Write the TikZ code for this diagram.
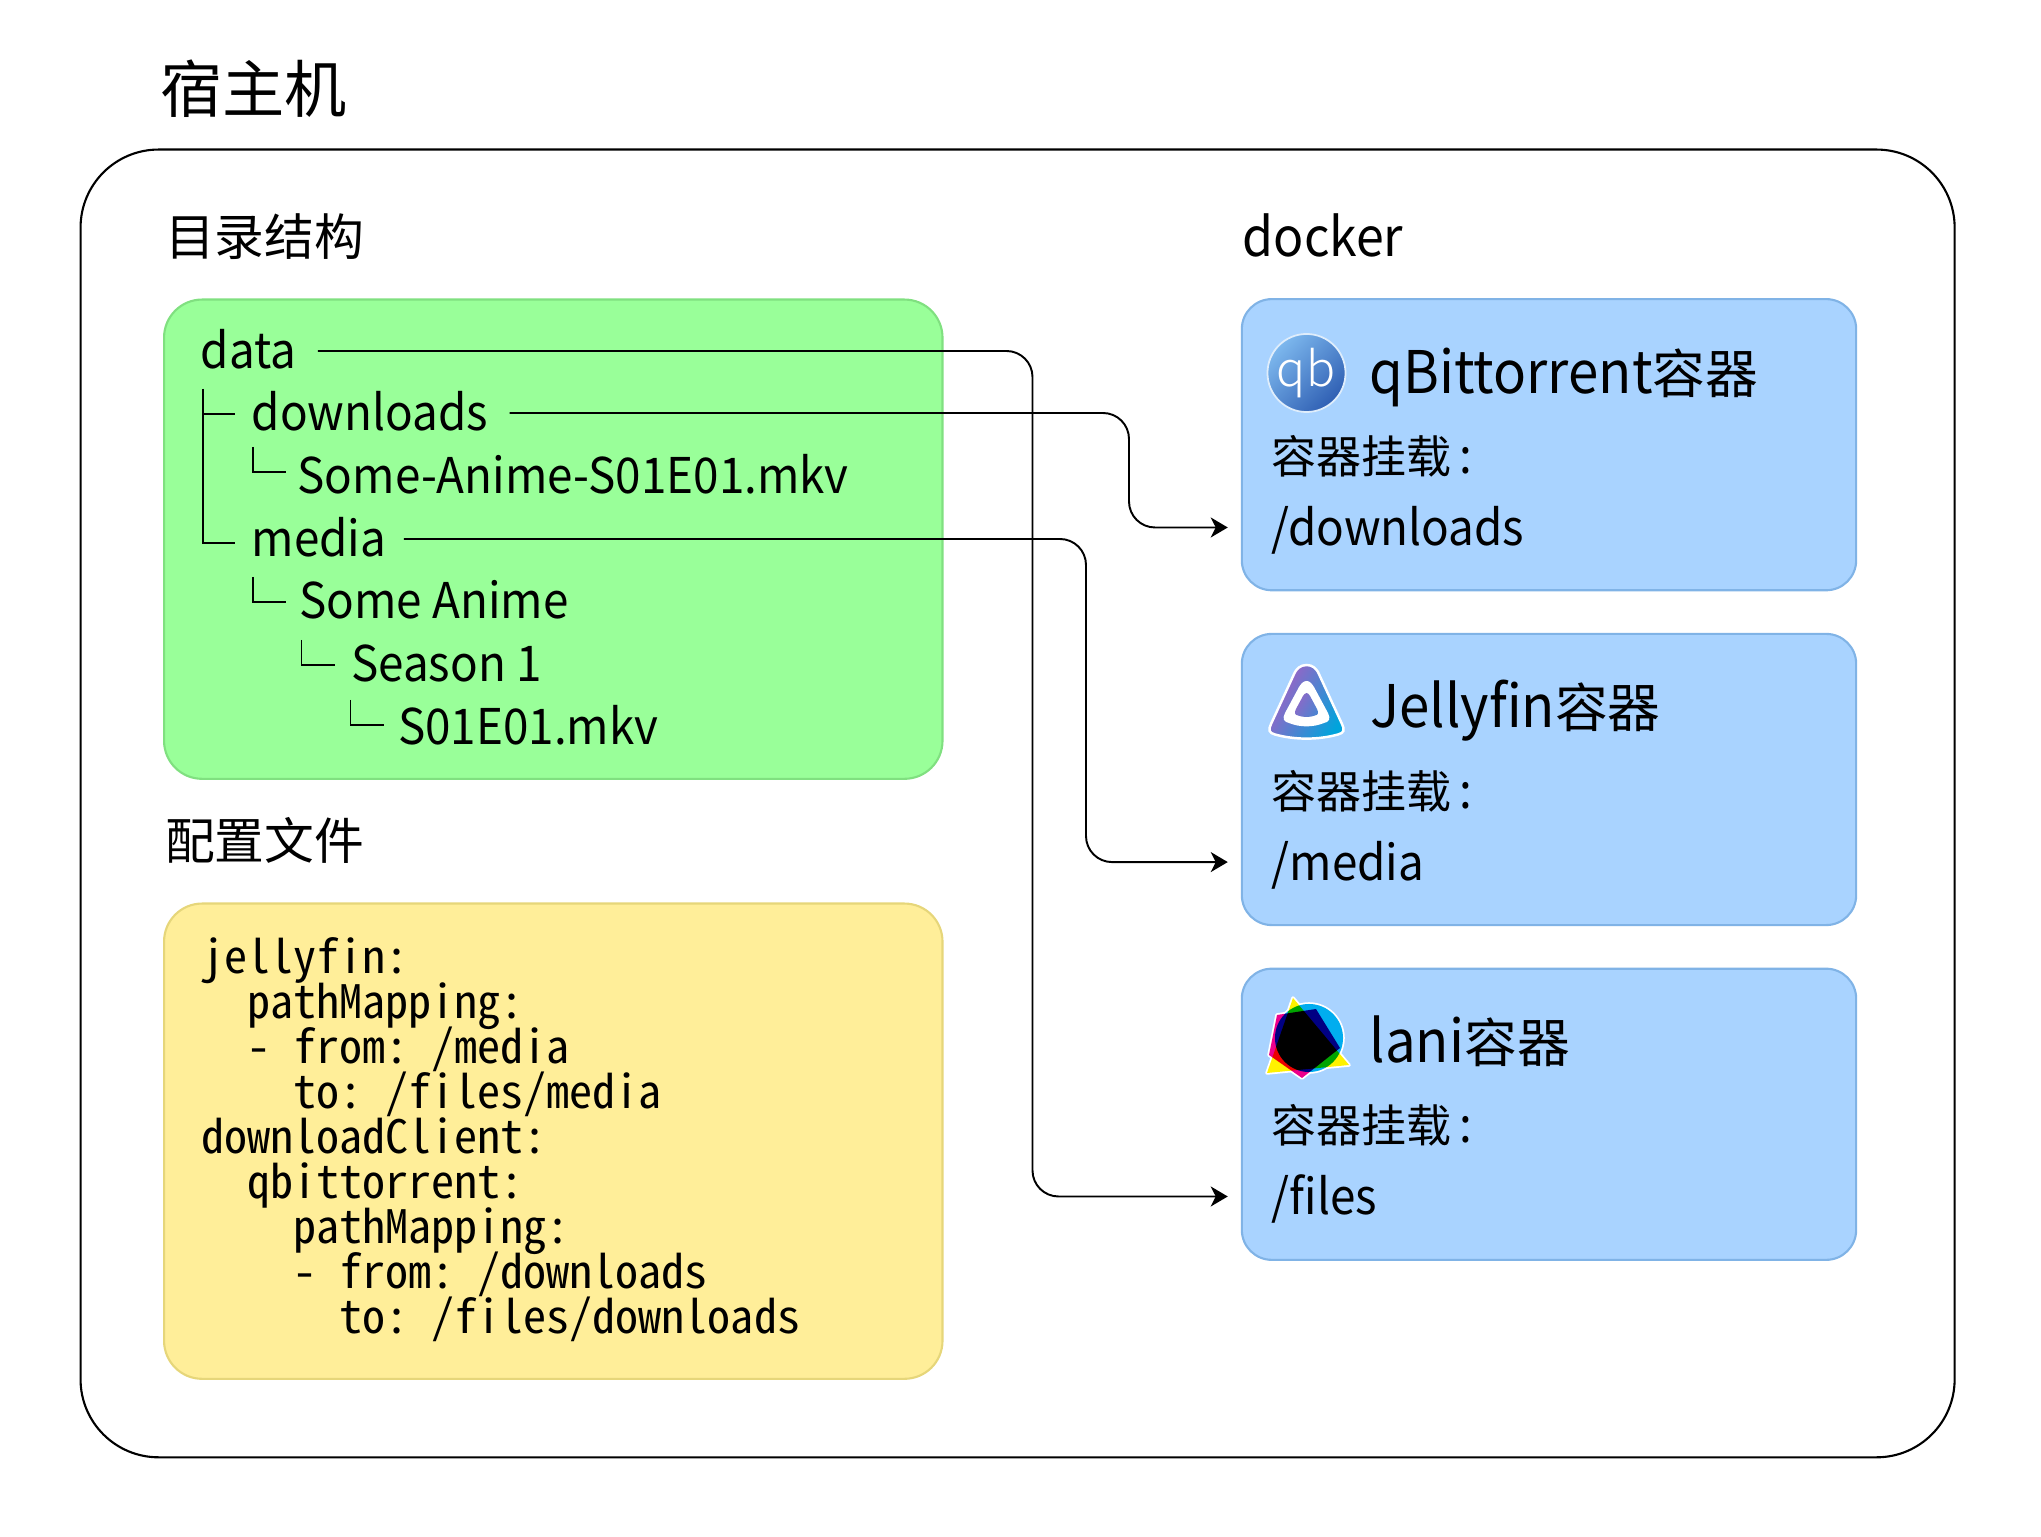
\documentclass[tikz,border=0pt]{standalone}
\usepackage{fontspec}
\usetikzlibrary{shapes, arrows.meta, positioning, calc}
\setmainfont{Noto Sans CJK SC}
\newfontfamily\yamlfont{Noto Sans Mono CJK SC}
\newfontfamily\latinfont[FakeStretch=0.93]{Noto Sans CJK SC}
\newfontfamily\qbfont{Noto Sans CJK SC Light}
\definecolor{greenfill}{HTML}{99FF99}
\definecolor{greenedge}{HTML}{80E080}
\definecolor{yellowfill}{HTML}{FFEE99}
\definecolor{yellowedge}{HTML}{E6D67A}
\definecolor{bluefill}{HTML}{A9D3FF}
\definecolor{blueedge}{HTML}{80B3E6}
\definecolor{jfpurple}{HTML}{AA5CC3}
\definecolor{jfmid}{HTML}{8F62C6}
\definecolor{jfcyan}{HTML}{00A4DC}
\definecolor{qblight}{HTML}{7DB8EE}
\definecolor{qbdark}{HTML}{2F5FB3}
\newcommand{\yamlsetup}{\yamlfont\frenchspacing\lineskiplimit=-20pt\relax\fontsize{13.1}{12.8}\selectfont}
\tikzstyle{hostbox} = [rectangle, rounded corners=0.78cm, minimum width=18.73cm, minimum height=13.07cm, draw=black, line width=0.6pt, anchor=north west, inner sep=0pt]
\tikzstyle{treebox} = [rectangle, rounded corners=0.38cm, minimum width=7.78cm, minimum height=4.79cm, draw=greenedge, fill=greenfill, line width=0.6pt, anchor=north west, inner sep=0pt]
\tikzstyle{yamlbox} = [rectangle, rounded corners=0.38cm, minimum width=7.78cm, minimum height=4.75cm, draw=yellowedge, fill=yellowfill, line width=0.6pt, anchor=north west, inner sep=0pt]
\tikzstyle{dockerbox} = [rectangle, rounded corners=0.3cm, minimum width=6.14cm, minimum height=2.91cm, draw=blueedge, fill=bluefill, line width=0.6pt, inner sep=0pt]
\tikzstyle{bigtitle} = [anchor=base west, inner sep=0pt, font=\fontsize{17.7}{20}\selectfont]
\tikzstyle{grouptitle} = [anchor=base west, inner sep=0pt, font=\fontsize{14.15}{16}\selectfont]
\tikzstyle{treetext} = [anchor=base west, inner sep=0pt, text height=0.45cm, text depth=0.1cm, font=\latinfont\fontsize{14}{16}\selectfont]
\tikzstyle{dockertitle} = [anchor=base west, inner sep=0pt, font=\fontsize{15}{16}\selectfont]
\tikzstyle{mountlabel} = [anchor=base west, inner sep=0pt, font=\fontsize{12.8}{16}\selectfont]
\tikzstyle{mountpath} = [anchor=base west, inner sep=0pt, text height=0.46cm, text depth=0.09cm, font=\latinfont\fontsize{14}{16}\selectfont]
\tikzstyle{yamltext} = [anchor=north west, inner sep=0pt, align=left, font=\yamlsetup]
\tikzstyle{treeline} = [draw=black, line width=0.55pt]
\tikzstyle{mountlink} = [draw=black, line width=0.55pt, rounded corners=0.26cm, shorten <=0.21cm, shorten >=0.13cm, -{Stealth[length=0.17cm,width=0.2cm,inset=0.05cm]}]
\tikzstyle{jfshade} = [left color=jfpurple, middle color=jfmid, right color=jfcyan, shading angle=60]
\newcommand{\ind}[1]{\hspace*{#1em}}
\newcommand{\appname}[1]{{\latinfont\fontsize{16.7}{18}\selectfont #1}}
\newcommand{\mountcolon}{\,{\latinfont\fontsize{14}{16}\selectfont :}}
\begin{document}
\begin{tikzpicture}[x=0.01cm, y=-0.01cm, node distance=3.346cm]
\useasboundingbox (0,0) rectangle (2041,1537);
\node (hosttitle) [bigtitle] at (159.5,112.5) {宿主机};
\node (hostbox) [hostbox] at (79.5,148.5) {};
\node (dirtitle) [grouptitle] at (164.5,255.5) {目录结构};
\node (dockertitle) [grouptitle, font=\latinfont\fontsize{15.3}{16}\selectfont] at (1242,256.5) {docker};
\node (cfgtitle) [grouptitle] at (164.5,860) {配置文件};
\node (treebox) [treebox] at (163,298.5) {};
\node (yamlbox) [yamlbox] at (163,902.5) {};
\node (qbbox) [dockerbox] at (1549,444.7) {};
\node (jfbox) [dockerbox, below of=qbbox] {};
\node (ianibox) [dockerbox, below of=jfbox] {};
\node (treedata) [treetext] at (200,368.5) {data};
\node (treedown) [treetext] at (251,430.5) {downloads};
\node (treefile) [treetext] at (297,493.5) {Some-Anime-S01E01.mkv};
\node (treemedia) [treetext] at (251,556.5) {media};
\node (treeanime) [treetext] at (298.5,618.5) {Some Anime};
\node (treeseason) [treetext] at (350.5,681.5) {Season 1};
\node (treeep) [treetext] at (397.5,744.5) {S01E01.mkv};
\coordinate (branchmain) at (203,389);
\coordinate (branchfile) at (253,447);
\coordinate (branchanime) at (253,577);
\coordinate (branchseason) at (301.5,640);
\coordinate (branchep) at (350.5,700);
\draw[treeline] (branchmain) |- ++(32,25);
\draw[treeline] (branchmain) |- ++(32,154);
\draw[treeline] (branchfile) |- ++(33,25);
\draw[treeline] (branchanime) |- ++(33,25);
\draw[treeline] (branchseason) |- ++(33,25);
\draw[treeline] (branchep) |- ++(33,25);
\node (yamltext) [yamltext] at (200.5,937) {jellyfin:\\
\ind{1}pathMapping:\\
\ind{1}- from: /media\\
\ind{2}to: /files/media\\
downloadClient:\\
\ind{1}qbittorrent:\\
\ind{2}pathMapping:\\
\ind{2}- from: /downloads\\
\ind{3}to: /files/downloads};
\node (qbtitle) [dockertitle] at (1369,393.3) {\appname{qBittorrent}容器};
\node (qbmount) [mountlabel] at (1271,474) {容器挂载\mountcolon};
\node (qbpath) [mountpath] at (1271,546) {/downloads};
\node (jftitle) [dockertitle] at (1369.5,727.8) {\appname{Jellyfin}容器};
\node (jfmount) [mountlabel] at (1271,808.6) {容器挂载\mountcolon};
\node (jfpath) [mountpath] at (1271,880.6) {/media};
\node (ianititle) [dockertitle] at (1369,1062.3) {\appname{lani}容器};
\node (ianimount) [mountlabel] at (1271,1143) {容器挂载\mountcolon};
\node (ianipath) [mountpath] at (1271,1215) {/files};
\shade[left color=qblight, right color=qbdark, shading angle=45, draw=white!75!qblight, line width=0.5pt] (1306.5,373) circle (0.39cm);
\node (qbicon) [text=white, inner sep=0pt, font=\qbfont\fontsize{13.7}{14}\selectfont] at (1306,373) {qb};
\shade[jfshade, draw=white, line width=0.7pt] (1306.7,665) .. controls (1300,665) and (1297,669) .. (1295,672) -- (1271,724) .. controls (1268,730) and (1269,733) .. (1275,734.5) .. controls (1295,740) and (1318,740) .. (1338,734.5) .. controls (1344,733) and (1345,730) .. (1342,724) -- (1318,672) .. controls (1316,669) and (1313,665) .. (1306.7,665) -- cycle;
\fill[white] (1306.7,681) .. controls (1303,681) and (1301,684) .. (1299,687) -- (1285,713) .. controls (1282,719) and (1284,722) .. (1289,723) .. controls (1300,727.5) and (1313,727.5) .. (1324,723) .. controls (1329,722) and (1331,719) .. (1328,713) -- (1314,687) .. controls (1312,684) and (1310,681) .. (1306.7,681) -- cycle;
\shade[left color=jfpurple!85!jfcyan, right color=jfpurple!45!jfcyan, shading angle=60] (1306.7,693) .. controls (1305,693) and (1304,694.5) .. (1303,696) -- (1296,709) .. controls (1294,713) and (1295,715) .. (1298,715.5) .. controls (1303,717.5) and (1310,717.5) .. (1315,715.5) .. controls (1318,715) and (1319,713) .. (1317,709) -- (1310,696) .. controls (1309,694.5) and (1308,693) .. (1306.7,693) -- cycle;
\draw[white, fill=white, line width=1pt, line join=round] (1293,998) -- (1267,1073) -- (1349,1065) -- cycle;
\draw[white, fill=white, line width=1pt] (1309,1038) circle (0.34cm);
\draw[white, fill=white, line width=1pt, line join=round] (1277,1015) -- (1316,1009) -- (1340,1048) -- (1302,1078) -- (1269,1055) -- cycle;
\begin{scope}[blend mode=multiply]
\fill[yellow] (1293,998) -- (1267,1073) -- (1349,1065) -- cycle;
\fill[cyan] (1309,1038) circle (0.34cm);
\fill[magenta] (1277,1015) -- (1316,1009) -- (1340,1048) -- (1302,1078) -- (1269,1055) -- cycle;
\end{scope}
\coordinate (busfiles) at (1032.5,800);
\coordinate (busdown) at (1129,470);
\coordinate (busmedia) at (1086,700);
\draw[mountlink] (treedata.east) -| (busfiles) |- (ianibox.west |- ianipath.east);
\draw[mountlink] (treedown.east) -| (busdown) |- (qbbox.west |- qbpath.east);
\draw[mountlink, shorten <=0.17cm] (treemedia.east) -| (busmedia) |- (jfbox.west |- jfpath.east);
\end{tikzpicture}
\end{document}
